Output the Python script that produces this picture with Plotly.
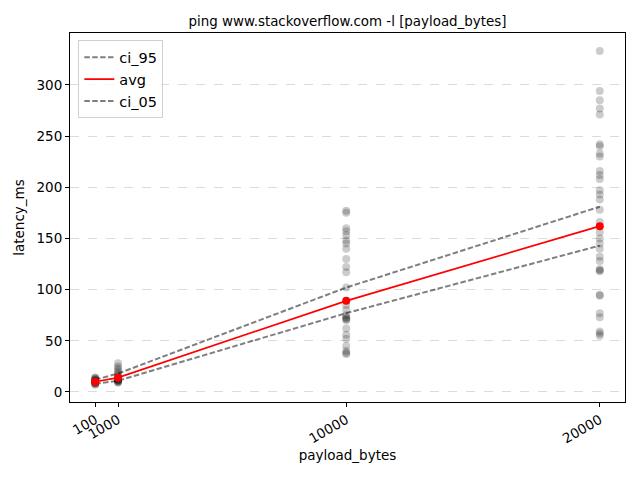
import plotly.graph_objects as go

payload = [100, 1000, 10000, 20000]
ci_95 = [12, 18, 102, 181]
avg = [10, 14, 89, 162]
ci_05 = [8, 11, 77, 143]

samples_100 = [7, 8, 9, 9, 10, 10, 11, 11, 12, 12, 13, 14, 14, 8, 10]
samples_1000 = [9, 10, 10, 11, 12, 13, 14, 15, 17, 19, 21, 23, 25, 28, 12, 11]
samples_10000 = [177, 175, 160, 157, 153, 148, 145, 140, 130, 122, 117, 102, 85,
                 80, 75, 72, 70, 71, 62, 56, 52, 45, 40, 37, 38, 73]
samples_20000 = [333, 294, 285, 277, 271, 242, 240, 233, 230, 216, 212, 208, 197,
                 193, 188, 178, 166, 156, 150, 145, 140, 132, 128, 120, 118, 119,
                 95, 94, 77, 73, 59, 57, 55]

xs = ([100] * len(samples_100) + [1000] * len(samples_1000) +
      [10000] * len(samples_10000) + [20000] * len(samples_20000))
ys = samples_100 + samples_1000 + samples_10000 + samples_20000

font = "DejaVu Sans"
fig = go.Figure()
fig.add_trace(go.Scatter(x=xs, y=ys, mode="markers", showlegend=False,
                         marker=dict(size=8, color="rgba(0,0,0,0.2)",
                                     line=dict(width=0))))
fig.add_trace(go.Scatter(x=payload, y=ci_95, mode="lines", name="ci_95",
                         line=dict(color="rgba(0,0,0,0.5)", width=2, dash="5.5px,2.4px")))
fig.add_trace(go.Scatter(x=payload, y=avg, mode="lines", name="avg",
                         line=dict(color="red", width=1.7)))
fig.add_trace(go.Scatter(x=payload, y=ci_05, mode="lines", name="ci_05",
                         line=dict(color="rgba(0,0,0,0.5)", width=2, dash="5.5px,2.4px")))
fig.add_trace(go.Scatter(x=payload, y=avg, mode="markers", showlegend=False,
                         marker=dict(size=8, color="red")))

fig.update_layout(
    width=640, height=480,
    margin=dict(l=70, r=15, t=33, b=78),
    paper_bgcolor="white", plot_bgcolor="white",
    font=dict(family=font, size=13.5, color="black"),
    title=dict(text="ping www.stackoverflow.com -l [payload_bytes]",
               x=0.5, xanchor="center", xref="paper", y=1 - 21 / 480, yanchor="middle",
               font=dict(size=13.4)),
    legend=dict(x=0.015, y=0.98, xanchor="left", yanchor="top",
                bordercolor="#d0d0d0", borderwidth=1, bgcolor="rgba(255,255,255,0.8)",
                font=dict(size=14.5), tracegroupgap=0),
    showlegend=True,
)
fig.update_xaxes(range=[-895, 20995], tickvals=payload,
                 ticktext=[str(p) for p in payload], tickangle=-30,
                 showgrid=False, zeroline=False, showline=True, linecolor="black",
                 mirror=True, ticks="outside", ticklen=4, tickcolor="black",
                 title=dict(text="payload_bytes", font=dict(size=13.5), standoff=5))
fig.update_yaxes(range=[-9.8, 350.7], tickvals=[0, 50, 100, 150, 200, 250, 300],
                 showgrid=True, gridcolor="rgba(176,176,176,0.45)", griddash="dash",
                 zeroline=False, showline=True, linecolor="black", mirror=True,
                 ticks="outside", ticklen=4, tickcolor="black",
                 title=dict(text="latency_ms", font=dict(size=13.5), standoff=8))

fig.write_html("out.html")
